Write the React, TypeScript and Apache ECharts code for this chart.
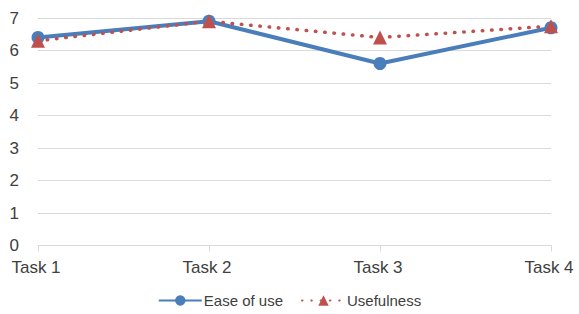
import React, { useEffect, useRef } from "react";
import * as echarts from "echarts";

const categories = ["Task 1", "Task 2", "Task 3", "Task 4"];
const easeOfUse = [6.4, 6.9, 5.6, 6.7];
const usefulness = [6.3, 6.9, 6.4, 6.75];
const yTicks = [0, 1, 2, 3, 4, 5, 6, 7];

export default function App() {
  const ref = useRef<HTMLDivElement>(null);
  useEffect(() => {
    const chart = echarts.init(ref.current!, undefined, { renderer: "svg" });
    const font = "'Liberation Sans', Arial, sans-serif";
    chart.setOption({
      animation: false,
      grid: { left: 38, right: 28, top: 18, bottom: 68.5, containLabel: false },
      legend: {
        bottom: 1,
        left: "center",
        itemWidth: 43,
        itemHeight: 13,
        itemGap: 18,
        textStyle: { fontFamily: font, fontSize: 15, color: "#404040", padding: [0, 0, 0, -3] },
        data: ["Ease of use", "Usefulness"],
      },
      xAxis: {
        type: "category",
        data: categories,
        boundaryGap: false,
        axisLine: { lineStyle: { color: "#d9d9d9", width: 1 } },
        axisTick: { show: true, length: 6, lineStyle: { color: "#d9d9d9" } },
        axisLabel: { fontFamily: font, fontSize: 17, color: "#404040", margin: 13, padding: [0, 4, 0, 0] },
      },
      yAxis: {
        type: "value",
        min: yTicks[0],
        max: yTicks[yTicks.length - 1],
        interval: 1,
        axisLine: { show: false },
        axisTick: { show: false },
        splitLine: { lineStyle: { color: "#d9d9d9", width: 1 } },
        axisLabel: { fontFamily: font, fontSize: 17, color: "#404040", margin: 19 },
      },
      series: [
        {
          name: "Ease of use",
          type: "line",
          data: easeOfUse,
          symbol: "circle",
          symbolSize: 13,
          lineStyle: { color: "#4a7ebb", width: 4 },
          itemStyle: { color: "#4a7ebb" },
        },
        {
          name: "Usefulness",
          type: "line",
          data: usefulness,
          symbol: "triangle",
          symbolSize: 14,
          lineStyle: { color: "#c0504d", width: 3.5, type: [0.5, 8.8], cap: "round" },
          itemStyle: { color: "#c0504d" },
        },
      ],
    });
    return () => chart.dispose();
  }, []);
  return <div ref={ref} style={{ width: 579, height: 314, position: "absolute", left: 0, top: 0 }} />;
}
